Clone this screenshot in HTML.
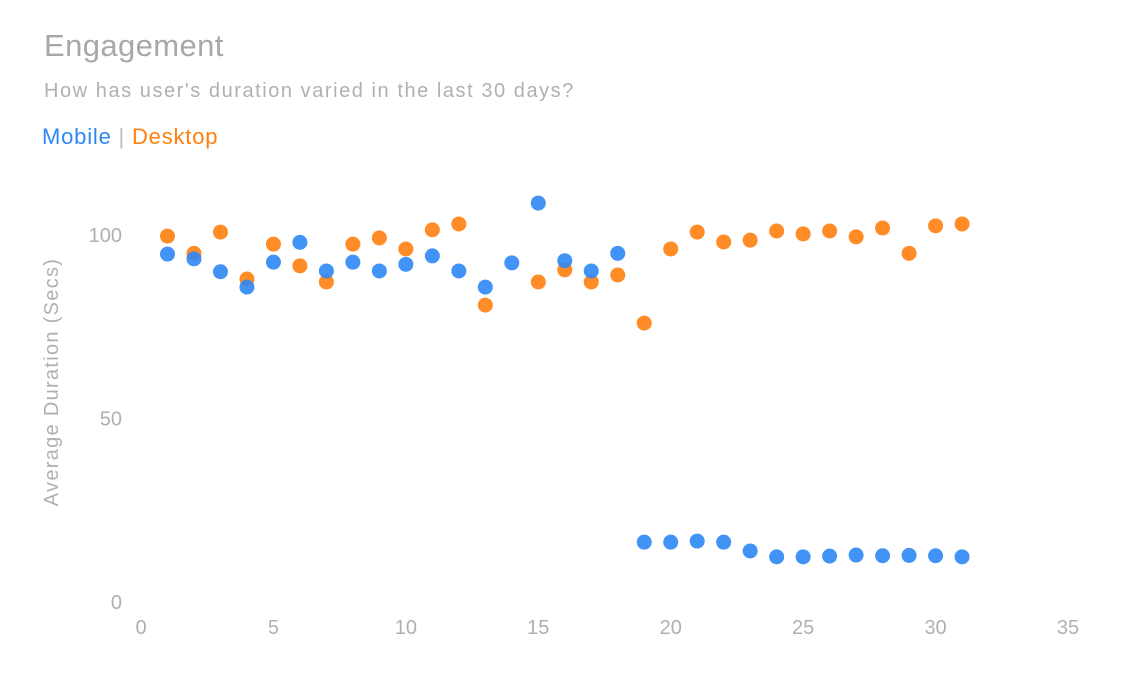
<!DOCTYPE html>
<html><head><meta charset="utf-8"><style>
body{margin:0;background:#fff;font-family:"Liberation Sans",sans-serif;}
#wrap{position:relative;width:1141px;height:696px;overflow:hidden}
.t{position:absolute;white-space:nowrap}
</style></head><body>
<div id="wrap">
<div class="t" style="left:44px;top:28px;font-size:31px;letter-spacing:0.4px;color:#a8a8a8">Engagement</div>
<div class="t" style="left:44px;top:80px;font-size:20px;letter-spacing:1.55px;color:#b0b0b0">How has user's duration varied in the last 30 days?</div>
<div class="t" style="left:42px;top:124px;font-size:22px;letter-spacing:0.8px"><span style="color:#2d87f5">Mobile</span> <span style="color:#bbb">|</span> <span style="color:#ff7f0e">Desktop</span></div>
<svg id="svg" width="1141" height="696" style="position:absolute;left:0;top:0"></svg>
</div>
<script>
const days=[1,2,3,4,5,6,7,8,9,10,11,12,13,14,15,16,17,18,19,20,21,22,23,24,25,26,27,28,29,30,31];
const mobile=[94.8,93.5,90,85.8,92.6,98,90.2,92.6,90.2,92,94.3,90.2,85.8,92.4,108.7,93,90.2,95,16.3,16.3,16.6,16.3,13.9,12.3,12.3,12.5,12.8,12.6,12.7,12.6,12.3];
const desktop=[99.7,95,100.8,88,97.5,91.6,87.2,97.5,99.2,96.2,101.4,103,80.9,null,87.2,90.5,87.2,89.1,76,96.2,100.8,98.1,98.6,101.1,100.3,101.1,99.5,101.9,95,102.5,103];
const xTicks=[0,5,10,15,20,25,30,35];
const yTicks=[0,50,100];
const X=v=>141+v*(1068-141)/35;
const Y=v=>602-v*3.67;
const svg=document.getElementById('svg');
const NS='http://www.w3.org/2000/svg';
function txt(x,y,s,anchor,extra){const t=document.createElementNS(NS,'text');t.setAttribute('x',x);t.setAttribute('y',y);t.setAttribute('text-anchor',anchor);t.setAttribute('font-size','20');t.setAttribute('fill','#b0b0b0');t.setAttribute('font-family','"Liberation Sans",sans-serif');if(extra)t.setAttribute('transform',extra);t.textContent=s;svg.appendChild(t);return t;}
xTicks.forEach(v=>{const t=txt(X(v),634,v,'middle');

});
yTicks.forEach(v=>{const t=txt(122,Y(v)+7,v,'end');

});
const yt=txt(58,382,'Average Duration (Secs)','middle','rotate(-90 58 382)');
yt.setAttribute('letter-spacing','1.3');


function dots(arr,color,name){arr.forEach((v,i)=>{if(v==null)return;const c=document.createElementNS(NS,'circle');c.setAttribute('cx',X(days[i]));c.setAttribute('cy',Y(v));c.setAttribute('r',7.5);c.setAttribute('fill',color);c.setAttribute('fill-opacity','0.9');


svg.appendChild(c);});}
dots(desktop,'#ff7f0e','desktop-point');
dots(mobile,'#2d87f5','mobile-point');
</script>
</body></html>
